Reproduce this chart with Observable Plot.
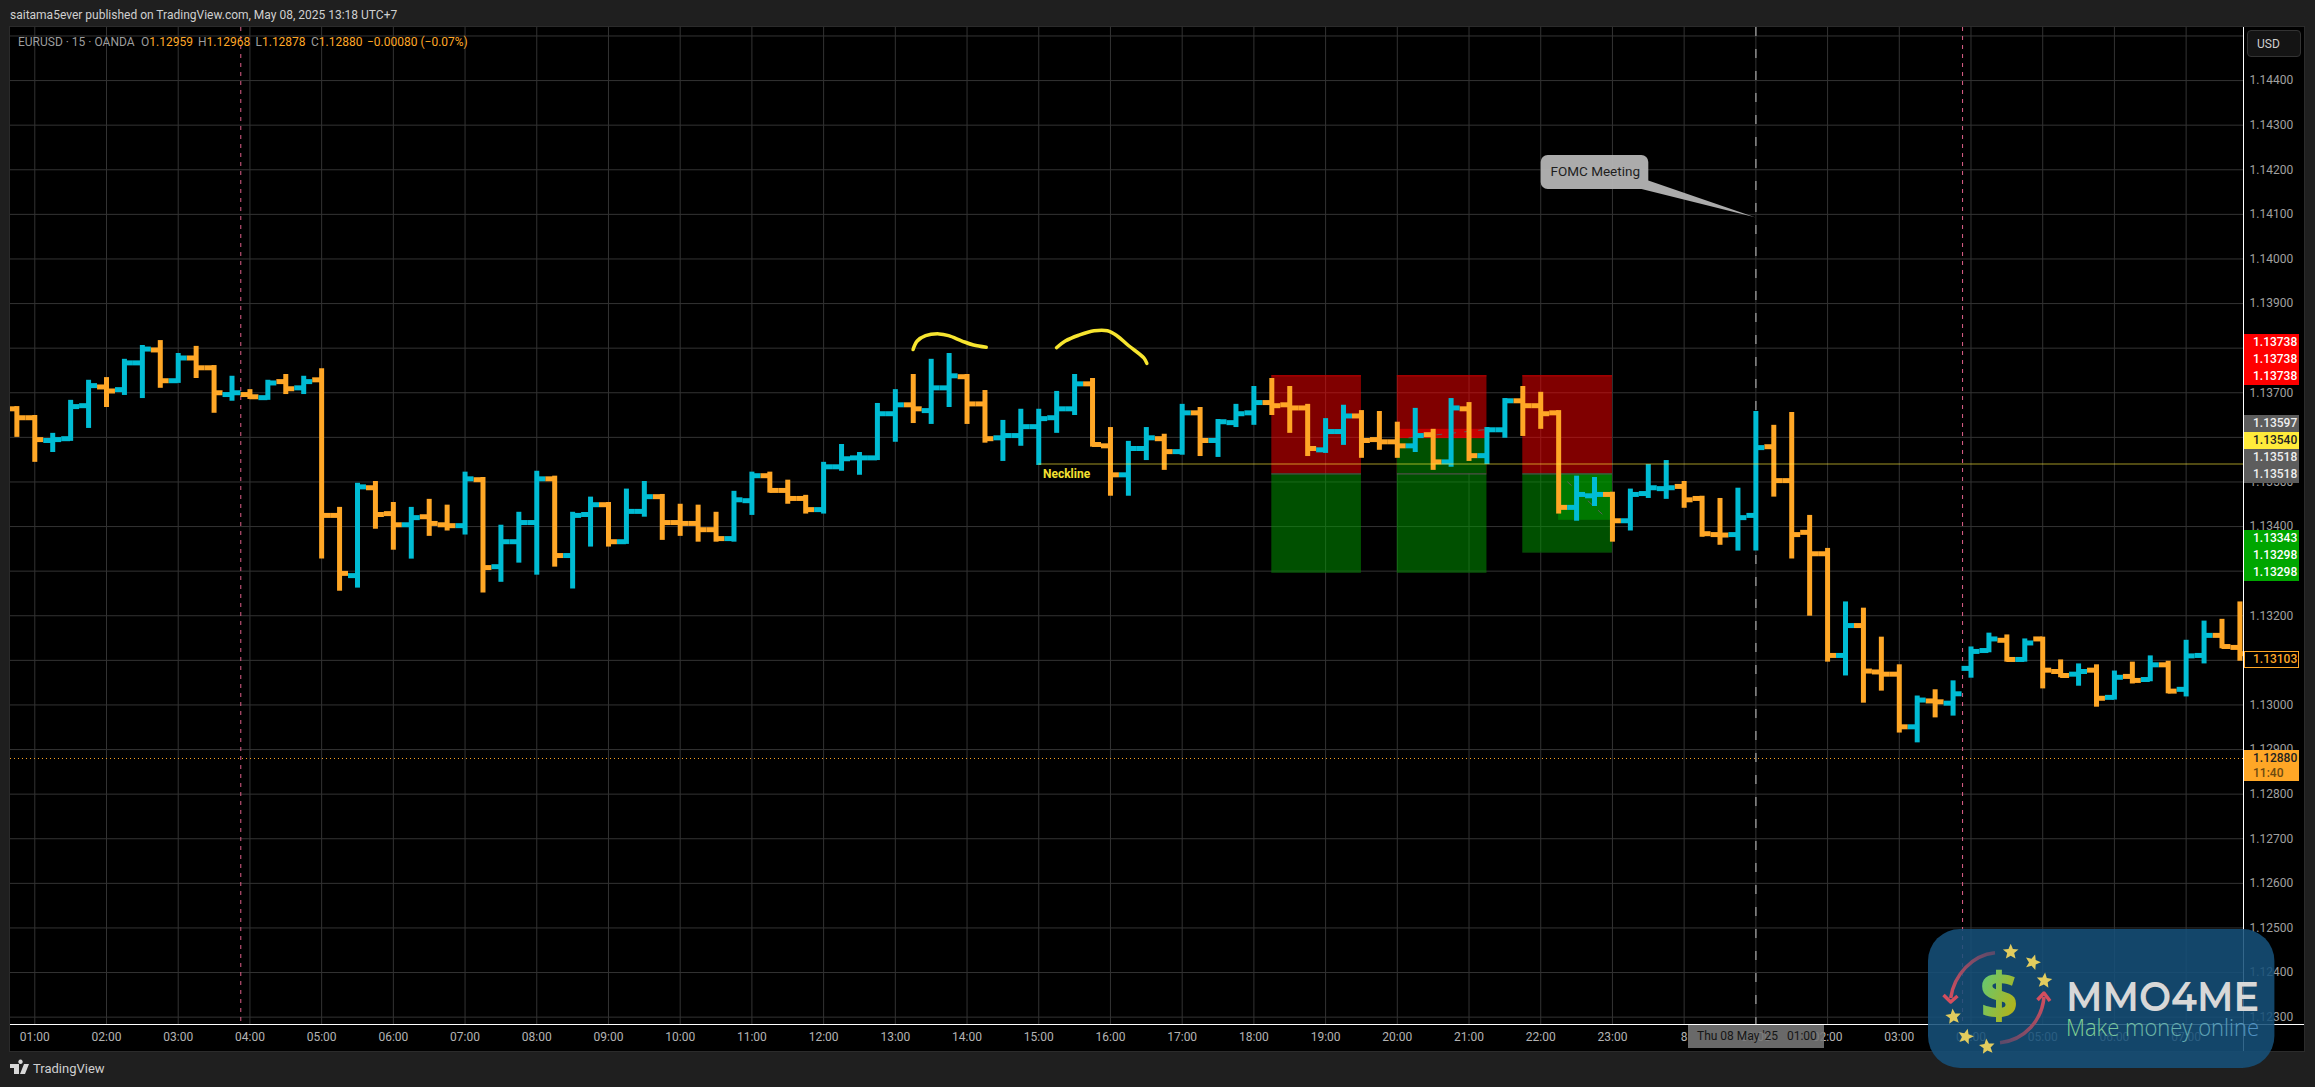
<!DOCTYPE html>
<html>
<head>
<meta charset="utf-8">
<script src="https://cdn.jsdelivr.net/npm/d3@7"></script>
<script src="https://cdn.jsdelivr.net/npm/@observablehq/plot@0.6"></script>
<style>
html,body{margin:0;padding:0;background:#1f1f1f;}
#page{position:relative;width:2315px;height:1087px;overflow:hidden;background:#1f1f1f;font-family:Roboto,"Liberation Sans",sans-serif;}
#panel{position:absolute;left:10px;top:27px;width:2294px;height:1024px;background:#000;box-shadow:0 0 0 1px #2b2b2b;}
#chart{position:absolute;left:0;top:0;}
#chart svg{display:block;}
.abs{position:absolute;white-space:nowrap;}
.tag{position:absolute;left:2244px;width:55px;height:17px;line-height:17px;font-size:12px;font-weight:500;padding-left:9px;box-sizing:border-box;}
.leg{position:absolute;top:34px;font-size:12px;line-height:16px;white-space:nowrap;color:#ffa726;}
.leg b{font-weight:400;color:#9c9c9c;}
</style>
</head>
<body>
<div id="page">
  <div id="panel"></div>
  <div id="chart"></div>
  <div id="overlay"></div>
</div>
<script>
// ---- Data -------------------------------------------------------------
const firstBarOffset = -1; // first bar sits one 15-minute step before 01:00
const opens = [
1.13664,1.13644,1.13593,1.13597,1.13671,1.13713,1.13707,1.13767,1.13796,1.13727,
1.13778,1.13756,1.13696,1.13696,1.13689,1.13725,1.13711,1.13729,1.13425,1.13290,
1.13487,1.13429,1.13404,1.13422,1.13404,1.13402,1.13505,1.13310,1.13366,1.13409,
1.13507,1.13335,1.13427,1.13449,1.13366,1.13434,1.13467,1.13409,1.13407,1.13393,
1.13373,1.13458,1.13514,1.13481,1.13463,1.13438,1.13534,1.13554,1.13554,1.13653,
1.13673,1.13660,1.13711,1.13736,1.13675,1.13599,1.13604,1.13624,1.13644,1.13664,
1.13720,1.13581,1.13516,1.13575,1.13597,1.13568,1.13655,1.13593,1.13633,1.13655,
1.13678,1.13673,1.13666,1.13572,1.13613,1.13648,1.13595,1.13590,1.13581,1.13606,
1.13545,1.13664,1.13559,1.13617,1.13682,1.13671,1.13655,1.13443,1.13469,1.13472,
1.13413,1.13474,1.13485,1.13490,1.13463,1.13382,1.13382,1.13425,1.13579,1.13503,
1.13387,1.13339,1.13111,1.13178,1.13074,1.13069,1.12951,1.13009,1.13004,1.13082,
1.13122,1.13145,1.13102,1.13148,1.13075,1.13069,1.13078,1.13017,1.13064,1.13057,
1.13090,1.13035,1.13111,1.13156,1.13129];
const highs = [
1.13669,1.13649,1.13609,1.13683,1.13728,1.13734,1.13775,1.13806,1.13817,1.13788,
1.13804,1.13761,1.13737,1.13707,1.13728,1.13741,1.13737,1.13754,1.13443,1.13497,
1.13501,1.13454,1.13443,1.13461,1.13448,1.13522,1.13510,1.13403,1.13432,1.13524,
1.13513,1.13432,1.13466,1.13454,1.13484,1.13501,1.13472,1.13450,1.13448,1.13432,
1.13479,1.13522,1.13522,1.13504,1.13470,1.13544,1.13584,1.13566,1.13676,1.13707,
1.13741,1.13775,1.13788,1.13741,1.13705,1.13638,1.13663,1.13663,1.13703,1.13741,
1.13732,1.13622,1.13591,1.13622,1.13607,1.13674,1.13667,1.13640,1.13674,1.13714,
1.13732,1.13714,1.13674,1.13642,1.13672,1.13660,1.13658,1.13634,1.13665,1.13618,
1.13687,1.13678,1.13622,1.13687,1.13714,1.13701,1.13660,1.13513,1.13510,1.13477,
1.13484,1.13539,1.13548,1.13501,1.13468,1.13463,1.13486,1.13658,1.13627,1.13656,
1.13425,1.13351,1.13231,1.13217,1.13152,1.13090,1.13020,1.13034,1.13054,1.13130,
1.13161,1.13157,1.13148,1.13152,1.13101,1.13092,1.13090,1.13076,1.13096,1.13110,
1.13098,1.13145,1.13188,1.13192,1.13231];
const lows = [
1.13600,1.13544,1.13566,1.13591,1.13620,1.13667,1.13694,1.13687,1.13710,1.13721,
1.13732,1.13654,1.13681,1.13685,1.13683,1.13696,1.13696,1.13327,1.13255,1.13262,
1.13394,1.13347,1.13327,1.13378,1.13390,1.13381,1.13251,1.13275,1.13318,1.13291,
1.13309,1.13260,1.13354,1.13354,1.13360,1.13421,1.13369,1.13378,1.13365,1.13365,
1.13365,1.13425,1.13475,1.13450,1.13428,1.13428,1.13524,1.13515,1.13548,1.13589,
1.13631,1.13629,1.13667,1.13629,1.13587,1.13546,1.13580,1.13537,1.13609,1.13649,
1.13578,1.13468,1.13468,1.13548,1.13526,1.13560,1.13557,1.13555,1.13622,1.13627,
1.13649,1.13609,1.13557,1.13564,1.13582,1.13553,1.13571,1.13553,1.13566,1.13526,
1.13533,1.13546,1.13539,1.13598,1.13602,1.13618,1.13428,1.13412,1.13445,1.13365,
1.13390,1.13463,1.13461,1.13441,1.13376,1.13358,1.13345,1.13345,1.13466,1.13327,
1.13199,1.13096,1.13065,1.13004,1.13031,1.12937,1.12915,1.12971,1.12975,1.13060,
1.13117,1.13096,1.13096,1.13036,1.13061,1.13042,1.12995,1.13011,1.13047,1.13052,
1.13025,1.13018,1.13092,1.13126,1.13098];
const closes = [
1.13644,1.13595,1.13595,1.13669,1.13716,1.13704,1.13767,1.13798,1.13727,1.13778,
1.13756,1.13700,1.13700,1.13691,1.13722,1.13709,1.13725,1.13425,1.13295,1.13489,
1.13427,1.13404,1.13420,1.13407,1.13402,1.13507,1.13308,1.13366,1.13409,1.13507,
1.13335,1.13425,1.13449,1.13366,1.13434,1.13467,1.13409,1.13407,1.13393,1.13373,
1.13460,1.13514,1.13481,1.13463,1.13438,1.13534,1.13552,1.13554,1.13653,1.13673,
1.13664,1.13711,1.13738,1.13675,1.13597,1.13604,1.13624,1.13642,1.13664,1.13720,
1.13584,1.13516,1.13575,1.13599,1.13568,1.13655,1.13593,1.13635,1.13653,1.13678,
1.13671,1.13666,1.13575,1.13613,1.13648,1.13593,1.13590,1.13581,1.13604,1.13545,
1.13666,1.13559,1.13617,1.13682,1.13671,1.13653,1.13443,1.13472,1.13472,1.13413,
1.13472,1.13487,1.13487,1.13460,1.13384,1.13381,1.13420,1.13577,1.13503,1.13382,
1.13339,1.13111,1.13178,1.13076,1.13069,1.12951,1.13011,1.13007,1.13025,1.13120,
1.13148,1.13102,1.13139,1.13078,1.13066,1.13075,1.13015,1.13062,1.13055,1.13090,
1.13031,1.13110,1.13156,1.13131,1.13115];

const priceTicks = [1.123,1.124,1.125,1.126,1.127,1.128,1.129,1.130,1.131,1.132,1.133,1.134,1.135,1.136,1.137,1.138,1.139,1.140,1.141,1.142,1.143,1.144,1.145];
const hourLabels = ["01:00","02:00","03:00","04:00","05:00","06:00","07:00","08:00","09:00","10:00","11:00","12:00","13:00","14:00","15:00","16:00","17:00","18:00","19:00","20:00","21:00","22:00","23:00","8","01:00","02:00","03:00","04:00","05:00","06:00","07:00"];

const lastPrice = 1.12880;
const necklinePrice = 1.13540;
const necklineStartBar = 56;
const riskTop = 1.13738, entryPrice = 1.13518, targetLow = 1.13298, targetHigh3 = 1.13343;
const boxBars = [[69,74,targetLow],[76,81,targetLow],[83,88,targetHigh3]];
const box2StopFloor = 1.13597, box2StopCeil = 1.13618;
const box3Fill = {startBar:85, endBar:88, low:1.13414};
const tradePathBars = [[76.65,80.81],[85.5,87.75]];
const tradePathPrices = [[1.13599,1.13617],[1.13500,1.13416]];
const sessionBars = [11.49,107.53];
const fomcBar = 96;

const squiggleA = {bars:[48.99,49.22,49.69,50.44,50.97,51.72,52.36,53.07],
                   prices:[1.13797,1.13816,1.13828,1.13832,1.13828,1.13816,1.13807,1.13802]};
const squiggleB = {bars:[56.99,57.48,58.23,59.09,59.83,60.36,61.0,61.86,62.03],
                   prices:[1.13801,1.13816,1.13829,1.13839,1.13839,1.13828,1.13806,1.13778,1.13766]};

const tagGroups = [
  {top:334, bg:"#ff0000", fg:"#fff", values:["1.13738","1.13738","1.13738"]},
  {top:415, bg:"#5d5d5d", fg:"#f0f0f0", values:["1.13597"]},
  {top:432, bg:"#ffeb3b", fg:"#222", values:["1.13540"]},
  {top:449, bg:"#5d5d5d", fg:"#f0f0f0", values:["1.13518","1.13518"]},
  {top:530, bg:"#00a600", fg:"#fff", values:["1.13343","1.13298","1.13298"]}
];
const ohlcLegend = [["O","1.12959",141],["H","1.12968",198],["L","1.12878",255.5],["C","1.12880",311]];

// ---- Scales helpers ----------------------------------------------------
const base = Date.UTC(2025,4,7,1,0);
const barTime = k => new Date(base + k*15*60000);
const UP = "#00bcd4", DOWN = "#ffa726";
const bars = opens.map((o,i)=>({k:i+firstBarOffset,t:barTime(i+firstBarOffset),
  tL:barTime(i+firstBarOffset-0.5),tR:barTime(i+firstBarOffset+0.5),
  o,h:highs[i],l:lows[i],c:closes[i]}));
const ups = bars.filter(d=>d.c>=d.o), downs = bars.filter(d=>d.c<d.o);
const hourTicks = hourLabels.map((_,i)=>barTime(i*4));
const labelOf = new Map(hourTicks.map((d,i)=>[+d,hourLabels[i]]));
const squigglePts = s => s.bars.map((b,i)=>({t:barTime(b),p:s.prices[i]}));

function barMarks(data,color){
  return [
    Plot.ruleX(data,{x:"t",y1:"l",y2:"h",stroke:color,strokeWidth:5,clip:true}),
    Plot.ruleY(data,{x1:"tL",x2:"t",y:"o",stroke:color,strokeWidth:5,clip:true}),
    Plot.ruleY(data,{x1:"t",x2:"tR",y:"c",stroke:color,strokeWidth:5,clip:true})
  ];
}

const chart = Plot.plot({
  width:2315,height:1087,
  marginLeft:10,marginRight:72,marginTop:27,marginBottom:63,
  style:{background:"transparent",fontFamily:"Roboto, 'Liberation Sans', sans-serif",fontSize:"12px"},
  x:{type:"utc",domain:[barTime(-1.355),barTime(123.2)],label:null},
  y:{domain:[1.122835,1.14519],label:null},
  marks:[
    Plot.ruleX(hourTicks,{stroke:"#333333",strokeWidth:1}),
    Plot.ruleY(priceTicks,{stroke:"#333333",strokeWidth:1}),
    Plot.axisY({anchor:"right",ticks:priceTicks,tickFormat:d=>d.toFixed(5),tickSize:0,tickPadding:6,color:"#a0a0a0",label:null,fontSize:12}),
    Plot.axisX({ticks:hourTicks,tickFormat:d=>labelOf.get(+d),tickSize:0,tickPadding:8,color:"#b4b4b4",label:null,fontSize:12}),
    // position boxes
    Plot.rect(boxBars,{x1:d=>barTime(d[0]),x2:d=>barTime(d[1]),y1:entryPrice,y2:riskTop,fill:"#ff0000",fillOpacity:0.5}),
    Plot.rect(boxBars,{x1:d=>barTime(d[0]),x2:d=>barTime(d[1]),y1:d=>d[2],y2:entryPrice,fill:"#00a000",fillOpacity:0.5}),
    Plot.rect([boxBars[1]],{x1:d=>barTime(d[0]),x2:d=>barTime(d[1]),y1:box2StopFloor,y2:box2StopCeil,fill:"#ff0000",fillOpacity:0.55}),
    Plot.rect([boxBars[1]],{x1:d=>barTime(d[0]),x2:d=>barTime(d[1]),y1:entryPrice,y2:box2StopFloor,fill:"#005000"}),
    Plot.rect([box3Fill],{x1:d=>barTime(d.startBar),x2:d=>barTime(d.endBar),y1:"low",y2:entryPrice,fill:"#00a000",fillOpacity:0.5}),
    Plot.ruleY(boxBars,{x1:d=>barTime(d[0]),x2:d=>barTime(d[1]),y:riskTop,stroke:"#c00000",strokeWidth:1}),
    Plot.ruleY(boxBars,{x1:d=>barTime(d[0]),x2:d=>barTime(d[1]),y:entryPrice,stroke:"#5a5a5a",strokeWidth:1}),
    Plot.ruleY(boxBars,{x1:d=>barTime(d[0]),x2:d=>barTime(d[1]),y:d=>d[2],stroke:"#0a6e0a",strokeWidth:1}),
    // faint dashed trade paths
    ...tradePathBars.map((b,i)=>Plot.line(b.map((k,j)=>({t:barTime(k),p:tradePathPrices[i][j]})),{x:"t",y:"p",stroke:"#5c5c5c",strokeWidth:1,strokeDasharray:"5,9"})),
    // session and event lines
    Plot.ruleX(sessionBars.map(barTime),{stroke:"#e0608a",strokeWidth:1,strokeDasharray:"4,5"}),
    Plot.ruleX([barTime(fomcBar)],{stroke:"#8a8a8a",strokeWidth:1.5,strokeDasharray:"9,13"}),
    // OHLC bars
    ...barMarks(downs,DOWN),
    ...barMarks(ups,UP),
    // neckline + current price
    Plot.ruleY([necklinePrice],{x1:barTime(necklineStartBar),x2:barTime(123.2),stroke:"#ffeb3b",strokeOpacity:0.42,strokeWidth:1.5}),
    Plot.ruleY([lastPrice],{stroke:DOWN,strokeWidth:1,strokeDasharray:"1,3"}),
    Plot.text(["Neckline"],{x:barTime(57.55),y:1.13518,fill:"#f5e031",fontWeight:700,fontSize:12}),
    // hand-drawn highlights
    Plot.line(squigglePts(squiggleA),{x:"t",y:"p",stroke:"#f7e52f",strokeWidth:3.5,curve:"catmull-rom",strokeLinecap:"round"}),
    Plot.line(squigglePts(squiggleB),{x:"t",y:"p",stroke:"#f7e52f",strokeWidth:3.5,curve:"catmull-rom",strokeLinecap:"round"})
  ]
});
document.getElementById("chart").appendChild(chart);

// ---- Overlays (HTML text, tags, callout, watermark) --------------------
const tagHtml = tagGroups.flatMap(g=>g.values.map((v,i)=>
  `<div class="tag" style="top:${g.top+i*17}px;background:${g.bg};color:${g.fg}">${v}</div>`)).join("");
const legendHtml = ohlcLegend.map(([k,v,x])=>`<div class="leg" style="left:${x}px"><b>${k}</b>${v}</div>`).join("");

function starPath(cx,cy,r,rot){
  let p=[];
  for(let i=0;i<10;i++){
    const rad=i%2?r*0.45:r, a=-Math.PI/2+rot+i*Math.PI/5;
    p.push((cx+rad*Math.cos(a)).toFixed(1)+","+(cy+rad*Math.sin(a)).toFixed(1));
  }
  return p.join(" ");
}
const stars=[[2010.7,952,0],[2032.7,962.3,.3],[2044.3,980.7,.1],[1953.3,1016.7,-.1],[1965.7,1036.7,.25],[1987,1046.7,-.1]];

document.getElementById("overlay").innerHTML = `
<div class="abs" style="left:10px;top:7px;font-size:12px;line-height:16px;color:#d0d0d0">saitama5ever published on TradingView.com, May 08, 2025 13:18 UTC+7</div>
<div class="leg" style="left:18px"><b>EURUSD · 15 · OANDA</b></div>
${legendHtml}
<div class="leg" style="left:367px">−0.00080 (−0.07%)</div>
<div class="abs" style="left:2247px;top:30px;width:54px;height:27px;box-sizing:border-box;background:#141414;border:1px solid #333;border-radius:4px;color:#cfcfcf;font-size:12px;line-height:26px;padding-left:9px">USD</div>
${tagHtml}
<div class="tag" style="top:651px;background:#000;color:#ffa726;border:1px solid #ffa726;line-height:15px;padding-left:8px">1.13103</div>
<div class="tag" style="top:750px;height:31px;background:#ffa726;color:#222;line-height:15px;padding-top:1px">1.12880<br><span style="color:#6d4a10">11:40</span></div>
<div class="abs" style="left:1688px;top:1025px;width:136px;height:23px;background:rgba(120,120,120,.88);color:#151515;font-size:12px;line-height:23px;padding-left:9px;box-sizing:border-box">Thu 08 May '25&nbsp;&nbsp;&nbsp;01:00</div>
<div class="abs" style="left:33px;top:1060px;font-size:13px;line-height:18px;color:#cfcfcf">TradingView</div>
<svg width="2315" height="1087" style="position:absolute;left:0;top:0;pointer-events:none">
  <defs>
    <linearGradient id="dollar" x1="0" y1="0" x2="1" y2="1"><stop offset="0" stop-color="#4fd08a"/><stop offset="1" stop-color="#c9ab00"/></linearGradient>
    <linearGradient id="arcL" gradientUnits="userSpaceOnUse" x1="1995" y1="952" x2="1951" y2="1000"><stop offset="0" stop-color="#5a4a6a"/><stop offset="1" stop-color="#d44e5e"/></linearGradient>
    <linearGradient id="arcR" gradientUnits="userSpaceOnUse" x1="2000" y1="1042" x2="2044" y2="995"><stop offset="0" stop-color="#5a4a6a"/><stop offset="1" stop-color="#d44e5e"/></linearGradient>
    <linearGradient id="tagline" x1="0" x2="1" y1="0" y2="0"><stop offset="0" stop-color="#84d890"/><stop offset="1" stop-color="#4f8fc4"/></linearGradient>
  </defs>
  <line x1="10" y1="1024.5" x2="2304" y2="1024.5" stroke="#ffffff" stroke-width="1"/>
  <line x1="2243.5" y1="27" x2="2243.5" y2="1051" stroke="#ffffff" stroke-width="1"/>
  <path d="M1547.7 155 H1641.3 a7 7 0 0 1 7 7 V180.5 L1755 217.3 L1641.5 189 H1547.7 a7 7 0 0 1 -7 -7 V162 a7 7 0 0 1 7 -7 Z" fill="#b4b4b4" fill-opacity="0.95"/>
  <text x="1550.5" y="176.2" font-size="13.5" fill="#1e1e1e" font-family="Roboto,'Liberation Sans',sans-serif">FOMC Meeting</text>
  <path d="M10 1064 H19 V1074 H14 V1068 H10 Z M20.5 1064 a2.2 2.2 0 1 1 0.01 0 Z M24 1064 H29 L25 1074 H20 Z" fill="#d8d8d8"/>
  <rect x="1928" y="929" width="346.4" height="139" rx="32" fill="rgb(22,80,122)" fill-opacity="0.87"/>
  <path d="M1995 952.7 C1972 955,1954 975,1950.7 998" fill="none" stroke="url(#arcL)" stroke-width="3.5"/>
  <path d="M1943.5 995 L1950.7 1002 L1957.5 996" fill="none" stroke="#d44e5e" stroke-width="3.5" stroke-linejoin="round"/>
  <path d="M2000 1042.7 C2025 1040,2042 1020,2044 997" fill="none" stroke="url(#arcR)" stroke-width="3.5"/>
  <path d="M2037.5 1000 L2044 993 L2050 1001" fill="none" stroke="#d44e5e" stroke-width="3.5" stroke-linejoin="round"/>
  <text x="1999" y="1018" text-anchor="middle" font-size="64" font-weight="800" fill="url(#dollar)" font-family="'Open Sans',sans-serif">$</text>
  ${stars.map(([x,y,r])=>`<polygon points="${starPath(x,y,8.2,r)}" fill="#e2cc5e"/>`).join("")}
  <text x="2066" y="1011" font-size="40" font-weight="600" fill="#d8d8d8" font-family="Montserrat,'Open Sans',sans-serif" textLength="193" lengthAdjust="spacingAndGlyphs">MMO4ME</text>
  <text x="2066" y="1036" font-size="24" font-weight="300" fill="url(#tagline)" font-family="'Open Sans',sans-serif" textLength="193" lengthAdjust="spacingAndGlyphs">Make money online</text>
</svg>`;
</script>
</body>
</html>
